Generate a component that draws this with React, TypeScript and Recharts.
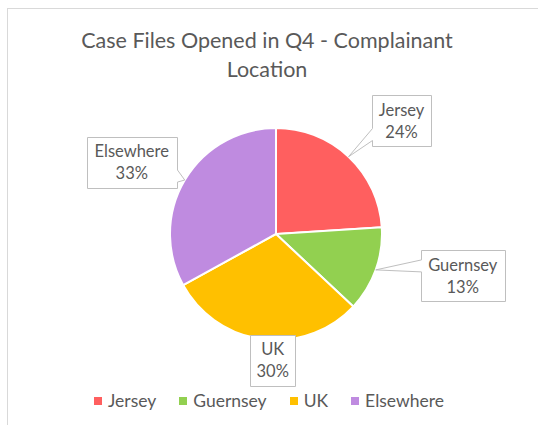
import { PieChart, Pie, Cell, Legend } from "recharts";

const categories = ["Jersey", "Guernsey", "UK", "Elsewhere"];
const shares = [24, 13, 30, 33];
const colors = ["#FF5F5F", "#92D050", "#FFC000", "#BF8BE0"];

const data = categories.map((name, i) => ({ name, value: shares[i] }));

const FONT = "Lato, 'Open Sans', sans-serif";
const TEXT = "#595959";
const RADIAN = Math.PI / 180;

// where each callout box sits, relative to the point on the slice edge
const calloutShift: Record<string, { dx: number; dy: number; w: number }> = {
  Jersey: { dx: 53, dy: -36, w: 59 },
  Guernsey: { dx: 87, dy: 6, w: 84 },
  UK: { dx: 10, dy: 21, w: 45 },
  Elsewhere: { dx: -53, dy: -18, w: 90 },
};

const clamp = (v: number, a: number, b: number) => Math.max(a, Math.min(b, v));

function calloutPath(x0: number, y0: number, x1: number, y1: number, tx: number, ty: number) {
  if (tx < x0) {
    const e = clamp(ty + 2, y0 + 12, y1 - 6);
    const s = e - 12;
    return `M${x0},${y0} H${x1} V${y1} H${x0} V${e} L${tx},${ty} L${x0},${s} Z`;
  }
  if (tx > x1) {
    const e = clamp(ty + 2, y0 + 12, y1 - 6);
    const s = e - 12;
    return `M${x0},${y0} H${x1} V${s} L${tx},${ty} L${x1},${e} V${y1} H${x0} Z`;
  }
  return `M${x0},${y0} H${x1} V${y1} H${x0} Z`;
}

const renderCallout = (props: any) => {
  const { cx, cy, midAngle, outerRadius, percent } = props;
  const name = props.name ?? props.payload?.name;
  const tx = cx + outerRadius * Math.cos(-midAngle * RADIAN);
  const ty = cy + outerRadius * Math.sin(-midAngle * RADIAN);
  const c = calloutShift[name];
  const h = 51;
  const bx = tx + c.dx;
  const by = ty + c.dy;
  const x0 = Math.round(bx - c.w / 2) + 0.5;
  const x1 = Math.round(bx + c.w / 2) + 0.5;
  const y0 = Math.round(by - h / 2) + 0.5;
  const y1 = Math.round(by + h / 2) + 0.5;
  return (
    <g>
      <path d={calloutPath(x0, y0, x1, y1, tx, ty)} fill="#fff" stroke="#BFBFBF" strokeWidth={1} />
      <text x={bx} y={by - 11} textAnchor="middle" dominantBaseline="central" fill={TEXT} fontSize={16.5} fontFamily={FONT}>
        {name}
      </text>
      <text x={bx} y={by + 11} textAnchor="middle" dominantBaseline="central" fill={TEXT} fontSize={16.5} fontFamily={FONT}>
        {Math.round(percent * 100)}%
      </text>
    </g>
  );
};

const LegendRow = () => (
  <div
    style={{
      display: "flex",
      justifyContent: "center",
      alignItems: "center",
      fontFamily: FONT,
      fontSize: 17.5,
      color: TEXT,
      lineHeight: "22px",
    }}
  >
    {categories.map((c, i) => (
      <span key={c} style={{ display: "flex", alignItems: "center", marginRight: i < categories.length - 1 ? 23 : 0 }}>
        <span style={{ width: 8, height: 8, background: colors[i], marginRight: 6, display: "inline-block" }} />
        {c}
      </span>
    ))}
  </div>
);

export default function App() {
  return (
    <div style={{ position: "absolute", left: 0, top: 0, width: 538, height: 425, overflow: "hidden", background: "#fff" }}>
      <div
        style={{
          position: "absolute",
          left: 7,
          top: 8,
          width: 600,
          height: 500,
          border: "1px solid #D9D9D9",
          boxSizing: "border-box",
        }}
      />
      <div
        style={{
          position: "absolute",
          left: 0,
          top: 26,
          width: 534,
          textAlign: "center",
          fontFamily: FONT,
          fontSize: 21.5,
          lineHeight: "29px",
          color: TEXT,
        }}
      >
        Case Files Opened in Q4 - Complainant
        <br />
        Location
      </div>
      <div style={{ position: "absolute", left: 0, top: 0 }}>
        <PieChart width={538} height={425} margin={{ top: 0, right: 0, bottom: 0, left: 0 }}>
          <Pie
            data={data}
            dataKey="value"
            nameKey="name"
            cx={276}
            cy={234}
            outerRadius={106}
            startAngle={90}
            endAngle={-270}
            stroke="#fff"
            strokeWidth={2}
            label={renderCallout}
            labelLine={false}
            isAnimationActive={false}
          >
            {data.map((d, i) => (
              <Cell key={d.name} fill={colors[i]} />
            ))}
          </Pie>
          <Legend content={<LegendRow />} wrapperStyle={{ top: 390, left: 0, width: 538 }} />
        </PieChart>
      </div>
    </div>
  );
}
